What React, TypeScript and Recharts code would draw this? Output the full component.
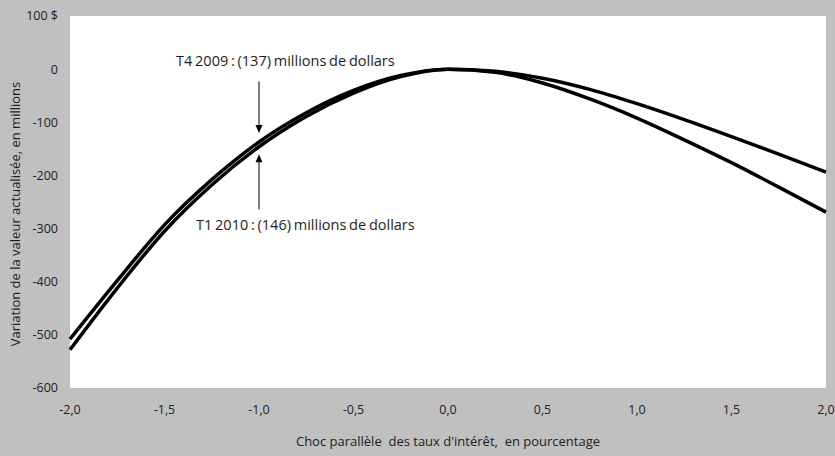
import { LineChart, Line, XAxis, YAxis, CartesianGrid, ReferenceLine } from "recharts";

// choc parallèle (points de pourcentage)
const shocks = [-2, -1.75, -1.5, -1.25, -1, -0.75, -0.5, -0.25, 0, 0.25, 0.5, 0.75, 1, 1.25, 1.5, 1.75, 2];
// variation de la valeur actualisée, en millions de dollars
const t4_2009 = [-508, -398, -293, -208, -137, -82, -40, -12, 0, -4, -17, -38, -65, -95, -127, -160, -194];
const t1_2010 = [-528, -412, -305, -218, -146, -89, -45, -14, 0, -6, -26, -56, -92, -133, -176, -222, -269];

const xTicks = [-2, -1.5, -1, -0.5, 0, 0.5, 1, 1.5, 2];
const yTicks = [-600, -500, -400, -300, -200, -100, 0, 100];

const notes = [
  { text: "T4 2009 : (137) millions de dollars", x: -1, from: -23, to: -120, dx: -83, dy: -20 },
  { text: "T1 2010 : (146) millions de dollars", x: -1, from: -264, to: -160, dx: -63, dy: 15 },
];

const data = shocks.map((x, i) => ({ x, t4: t4_2009[i], t1: t1_2010[i] }));

const FONT = "'Open Sans', sans-serif";
const INK = "#1e1e1e";

const fmtX = (v: number) => v.toFixed(1).replace(".", ",");

function YTick({ x, y, payload }: any) {
  return (
    <text x={x} y={y} dy="0.35em" textAnchor="end" fontSize={12.5} fontFamily={FONT} fill={INK}>
      {payload.value}
      {payload.value === 100 ? <tspan> $</tspan> : null}
    </text>
  );
}

function Arrow({ x1, y1, x2, y2, note }: any) {
  const dir = y2 > y1 ? 1 : -1;
  const head = 8;
  return (
    <g>
      <line x1={x1} y1={y1} x2={x2} y2={y2 - dir * head} stroke="#000" strokeWidth={1} />
      <polygon
        points={`${x2},${y2} ${x2 - 3.5},${y2 - dir * head} ${x2 + 3.5},${y2 - dir * head}`}
        fill="#000"
      />
      <text
        x={x1 + note.dx}
        y={y1 + note.dy}
        dy="0.35em"
        fontSize={14.5}
        fontFamily={FONT}
        fill={INK}
        wordSpacing={-1}
      >
        {note.text}
      </text>
    </g>
  );
}

export default function App() {
  return (
    <div
      style={{
        position: "absolute",
        left: 0,
        top: 0,
        width: 835,
        height: 456,
        background: "#c0c0c0",
        fontFamily: FONT,
      }}
    >
      <LineChart
        width={835}
        height={456}
        data={data}
        margin={{ top: 16, right: 9, bottom: 38, left: 10 }}
      >
        <CartesianGrid horizontal={false} vertical={false} fill="#ffffff" />
        <XAxis
          dataKey="x"
          type="number"
          domain={[-2, 2]}
          ticks={xTicks}
          tickFormatter={fmtX}
          axisLine={false}
          tickLine={false}
          tickSize={0}
          tickMargin={17}
          height={30}
          interval={0}
          tick={{ fontSize: 12.5, fontFamily: FONT, fill: INK }}
        />
        <YAxis
          type="number"
          domain={[-600, 100]}
          ticks={yTicks}
          axisLine={false}
          tickLine={false}
          tickSize={0}
          tickMargin={12}
          width={60}
          interval={0}
          tick={<YTick />}
        />
        <Line
          type="monotone"
          dataKey="t4"
          stroke="#000"
          strokeWidth={3.5}
          dot={false}
          isAnimationActive={false}
        />
        <Line
          type="monotone"
          dataKey="t1"
          stroke="#000"
          strokeWidth={3.5}
          dot={false}
          isAnimationActive={false}
        />
        {notes.map((n) => (
          <ReferenceLine
            key={n.text}
            segment={[
              { x: n.x, y: n.from },
              { x: n.x, y: n.to },
            ]}
            shape={(p: any) => <Arrow {...p} note={n} />}
          />
        ))}
      </LineChart>
      <div
        style={{
          position: "absolute",
          left: 0,
          top: 432,
          width: 896,
          textAlign: "center",
          fontSize: 13,
          color: INK,
          whiteSpace: "pre",
        }}
      >
        {"Choc parallèle  des taux d'intérêt,  en pourcentage"}
      </div>
      <div
        style={{
          position: "absolute",
          left: 15,
          top: 214,
          transform: "translate(-50%, -50%) rotate(-90deg)",
          fontSize: 13,
          color: INK,
          whiteSpace: "nowrap",
        }}
      >
        Variation de la valeur actualisée, en millions
      </div>
    </div>
  );
}
